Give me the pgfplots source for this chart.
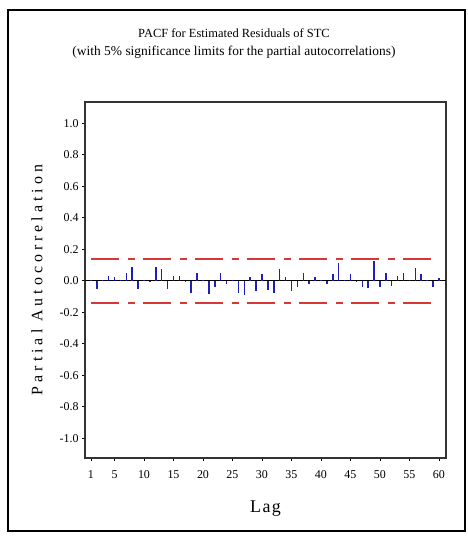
\documentclass[border=0pt]{standalone}
\usepackage{fontspec}
\setmainfont{Liberation Serif}
\usepackage{pgfplots}
\pgfplotsset{compat=1.18}
\definecolor{barblue}{RGB}{30,30,190}
\definecolor{limred}{RGB}{215,55,55}
\begin{document}
\begin{tikzpicture}[x=1bp,y=1bp]
\path (0,0) rectangle (468,536);
\draw[line width=1.3bp] (8,5) rectangle (465,526);
\node[font=\fontsize{12.5}{14}\selectfont] at (234,503) {PACF for Estimated Residuals of STC};
\node[font=\fontsize{13.5}{14}\selectfont] at (234,484) {(with 5\% significance limits for the partial autocorrelations)};
\begin{axis}[
  at={(85bp,78bp)}, anchor=south west,
  scale only axis, width=361bp, height=356bp,
  xmin=0, xmax=61.2, ymin=-1.125, ymax=1.135,
  xtick={1,5,10,15,20,25,30,35,40,45,50,55,60},
  ytick={-1,-0.8,-0.6,-0.4,-0.2,0,0.2,0.4,0.6,0.8,1},
  yticklabel style={/pgf/number format/.cd,fixed,fixed zerofill,precision=1},
  /pgf/number format/assume math mode=true,
  tick label style={font=\fontsize{12}{13}\selectfont},
  xticklabel style={yshift=-6bp},
  xtick pos=bottom, ytick pos=left, tick align=outside,
  major tick length=3bp,
  axis line style={line width=1.3bp, black!80},
  tick style={line width=0.8bp, black},
  xlabel={Lag}, ylabel={Partial Autocorrelation},
  xlabel style={font=\fontsize{18}{19}\selectfont\addfontfeature{LetterSpace=8}, at={(axis description cs:0.5,-0.142)}, anchor=center},
  ylabel style={font=\fontsize{16}{17}\selectfont\addfontfeature{LetterSpace=25}, at={(axis description cs:-0.133,0.5)}, anchor=center},
  clip=false,
]
\addplot[black, line width=1.1bp] coordinates {(0,0) (61.2,0)};
\addplot[limred, line width=2bp, dash pattern=on 28bp off 9bp on 7bp off 8bp] coordinates {(1,0.138) (60,0.138)};
\addplot[limred, line width=2bp, dash pattern=on 28bp off 9bp on 7bp off 8bp] coordinates {(1,-0.138) (60,-0.138)};
\addplot[ycomb, barblue, line width=1.5bp, mark=none] coordinates {
(1,0.005) (2,-0.053) (3,0.004) (4,0.030) (5,0.022) (6,0.005) (7,0.052) (8,0.087) (9,-0.053) (10,0.004)
(11,-0.005) (12,0.087) (13,0.076) (14,-0.053) (15,0.030) (16,0.030) (17,-0.004) (18,-0.078) (19,0.050) (20,0.004)
(21,-0.085) (22,-0.040) (23,0.050) (24,-0.020) (25,0.005) (26,-0.078) (27,-0.090) (28,0.022) (29,-0.068) (30,0.040)
(31,-0.057) (32,-0.078) (33,0.076) (34,0.025) (35,-0.068) (36,-0.040) (37,0.050) (38,-0.020) (39,0.025) (40,0.004)
(41,-0.020) (42,0.040) (43,0.110) (44,0.005) (45,0.045) (46,-0.004) (47,-0.040) (48,-0.047) (49,0.123) (50,-0.040)
(51,0.050) (52,-0.035) (53,0.030) (54,0.050) (55,0.004) (56,0.080) (57,0.040) (58,0.004) (59,-0.040) (60,0.020)
};
\end{axis}
\end{tikzpicture}
\end{document}
